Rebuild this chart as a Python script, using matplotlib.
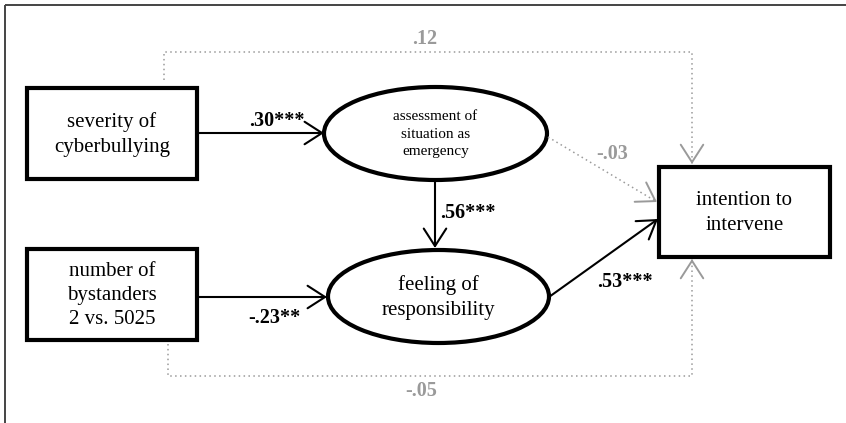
import matplotlib.pyplot as plt
from matplotlib.patches import Rectangle, Ellipse, FancyArrowPatch

plt.rcParams['font.family'] = ['Liberation Serif', 'DejaVu Serif']

# node labels
box_labels = ["severity of\ncyberbullying", "number of\nbystanders\n2 vs. 5025", "intention to\nintervene"]
ellipse_labels = ["assessment of\nsituation as\nemergency", "feeling of\nresponsibility"]

# path coefficients
sig_paths = [".30***", ".56***", "-.23**", ".53***"]
ns_paths = [".12", "-.03", "-.05"]

# layout (pixel coordinates, y down)
boxes = [(27, 88, 170, 91), (27, 249, 170, 91), (659, 167, 171, 90)]
ellipses = [(435.5, 133.5, 223, 93), (438.5, 296.5, 221, 93)]

fig = plt.figure(figsize=(8.46, 4.23), dpi=100)
ax = fig.add_axes([0, 0, 1, 1])
ax.set_xlim(0, 846)
ax.set_ylim(423, 0)
ax.axis("off")

# outer frame
ax.add_patch(Rectangle((4.5, 5), 900, 500, fill=False, ec="#444444", lw=1.4))

for (x, y, w, h), lab in zip(boxes, box_labels):
    ax.add_patch(Rectangle((x, y), w, h, fill=False, ec="black", lw=3))
    ax.text(x + w / 2, y + h / 2 + 1, lab, ha="center", va="center",
            fontsize=15, linespacing=1.38)

for i, ((cx, cy, w, h), lab) in enumerate(zip(ellipses, ellipse_labels)):
    ax.add_patch(Ellipse((cx, cy), w, h, fill=False, ec="black", lw=3))
    fs = 11 if i == 0 else 15
    ax.text(cx, cy + 1, lab, ha="center", va="center", fontsize=fs,
            linespacing=1.45 if i == 0 else 1.38)

head = "->,head_length=0.7,head_width=0.45"


def arrow(p0, p1, color="black", lw=1.5):
    a = FancyArrowPatch(p0, p1, arrowstyle=head, mutation_scale=18,
                        color=color, lw=lw, shrinkA=0, shrinkB=0)
    ax.add_patch(a)


def dotted_arrow(xs, ys, color):
    ax.plot(xs, ys, color=color, ls=(0, (1, 2.2)), lw=1.1)
    # solid open head on the last segment
    dx, dy = xs[-1] - xs[-2], ys[-1] - ys[-2]
    n = (dx ** 2 + dy ** 2) ** 0.5
    p0 = (xs[-1] - dx / n * 3, ys[-1] - dy / n * 3)
    a = FancyArrowPatch(p0, (xs[-1], ys[-1]), arrowstyle=head, mutation_scale=18,
                        color=color, lw=1.4, shrinkA=0, shrinkB=0)
    ax.add_patch(a)


gray = "#9a9a9a"
bold = dict(ha="center", va="center", fontsize=14.5, fontweight="bold")

# significant paths
arrow((197, 133), (324, 133))
arrow((435, 180), (435, 248))
arrow((197, 297), (327, 297))
arrow((549, 297), (658, 219))

ax.text(277, 121, sig_paths[0], **bold)
ax.text(468, 213, sig_paths[1], **bold)
ax.text(274, 318, sig_paths[2], **bold)
ax.text(625, 282, sig_paths[3], **bold)

# non-significant paths (dotted)
dotted_arrow([164, 164, 692, 692], [80, 52, 52, 164], gray)
dotted_arrow([168, 168, 692, 692], [344, 376, 376, 259], gray)
dotted_arrow([548, 657], [137, 202], gray)

ax.text(425, 39, ns_paths[0], color=gray, **bold)
ax.text(612, 154, ns_paths[1], color=gray, **bold)
ax.text(421, 391, ns_paths[2], color=gray, **bold)

fig.savefig("out.png", dpi=100)
